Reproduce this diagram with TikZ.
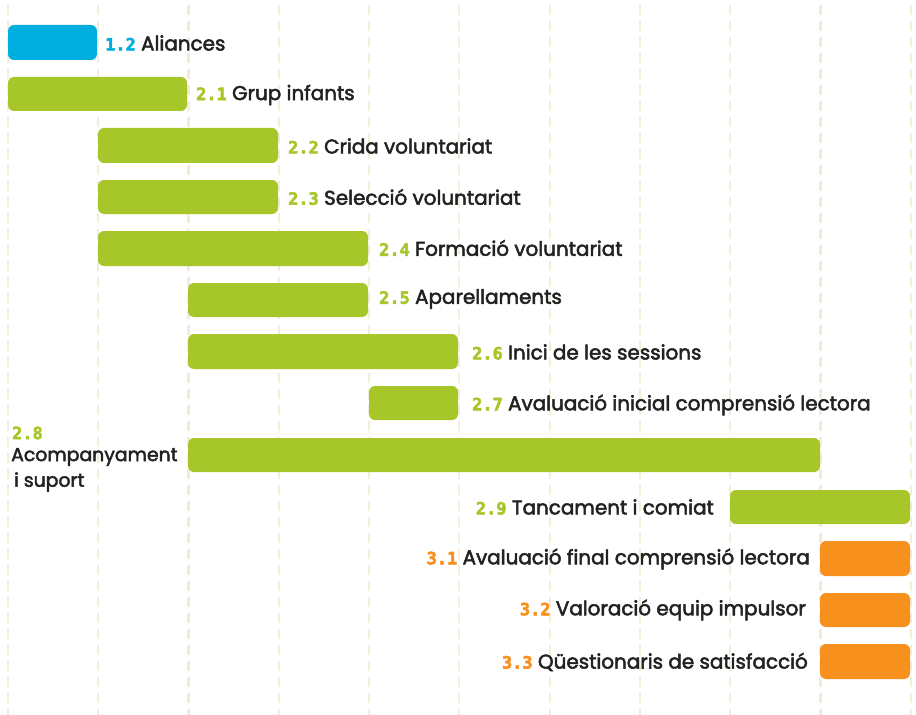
\documentclass[tikz,border=0pt]{standalone}
\usepackage{fontspec}
\setmainfont{Poppins}[FakeBold=2.5]
\newfontfamily\numfont{DejaVu Sans Mono Bold}[FakeBold=3]
\definecolor{gridc}{HTML}{F4EBD8}
\definecolor{cyanb}{HTML}{00AFE0}
\definecolor{greenb}{HTML}{A6C62A}
\definecolor{orangeb}{HTML}{F8901E}
\definecolor{txt}{HTML}{222222}
\tikzset{
  gridline/.style={draw=gridc, line width=2.2bp, dash pattern=on 10bp off 6bp, dash phase=-5bp},
  bar/.style={rounded corners=6bp, fill=#1, draw=none},
  lbl/.style={font=\fontsize{20}{24}\selectfont, text=txt, inner sep=0pt},
  lblsm/.style={font=\fontsize{18.9}{24}\selectfont, text=txt, inner sep=0pt},
}
\newcommand{\nm}[2]{{\numfont\fontsize{17}{20}\selectfont\color{#1}#2}}
\begin{document}
\begin{tikzpicture}[x=1bp,y=-1bp]
\useasboundingbox (0,0) rectangle (916,715);
\fill[white] (0,0) rectangle (916,715);
\foreach \i in {0,...,10} {
  \draw[gridline] (7.8+90.3*\i,0) -- (7.8+90.3*\i,715);
}
% bars
\fill[bar=cyanb] (8,25) rectangle (97,60);
\fill[bar=greenb] (8,77) rectangle (187,111);
\fill[bar=greenb] (98,128) rectangle (278,163);
\fill[bar=greenb] (98,180) rectangle (278,214);
\fill[bar=greenb] (98,231) rectangle (368,266);
\fill[bar=greenb] (188,283) rectangle (368,317);
\fill[bar=greenb] (188,334) rectangle (458,369);
\fill[bar=greenb] (369,386) rectangle (458,420);
\fill[bar=greenb] (188,438) rectangle (820,472);
\fill[bar=greenb] (730,490) rectangle (910,524);
\fill[bar=orangeb] (820,541) rectangle (910,576);
\fill[bar=orangeb] (820,593) rectangle (910,627);
\fill[bar=orangeb] (820,644) rectangle (910,679);
% labels
\node[lbl, anchor=west] (l12) at (105,43) {\nm{cyanb}{1.2} Aliances};
\node[lbl, anchor=west] (l21) at (196,95) {\nm{greenb}{2.1} Grup infants};
\node[lbl, anchor=west] (l22) at (288,146) {\nm{greenb}{2.2} Crida voluntariat};
\node[lbl, anchor=west] (l23) at (288,197) {\nm{greenb}{2.3} Selecció voluntariat};
\node[lbl, anchor=west] (l24) at (379,248) {\nm{greenb}{2.4} Formació voluntariat};
\node[lbl, anchor=west] (l25) at (379,299) {\nm{greenb}{2.5} Aparellaments};
\node[lbl, anchor=west] (l26) at (472,352) {\nm{greenb}{2.6} Inici de les sessions};
\node[lbl, anchor=west] (l27) at (472,405) {\nm{greenb}{2.7} Avaluació inicial comprensió lectora};
\node[lbl, anchor=west] (l28n) at (12,433) {\nm{greenb}{2.8}};
\node[lblsm, anchor=west] (l28a) at (11,457) {Acompanyament};
\node[lblsm, anchor=west] (l28b) at (14,482) {i suport};
\node[lbl, anchor=east] (l29) at (714,507) {\nm{greenb}{2.9} Tancament i comiat};
\node[lbl, anchor=east] (l31) at (810,559) {\nm{orangeb}{3.1} Avaluació final comprensió lectora};
\node[lbl, anchor=east] (l32) at (806,610) {\nm{orangeb}{3.2} Valoració equip impulsor};
\node[lbl, anchor=east] (l33) at (808,662) {\nm{orangeb}{3.3} Qüestionaris de satisfacció};
\end{tikzpicture}
\end{document}
